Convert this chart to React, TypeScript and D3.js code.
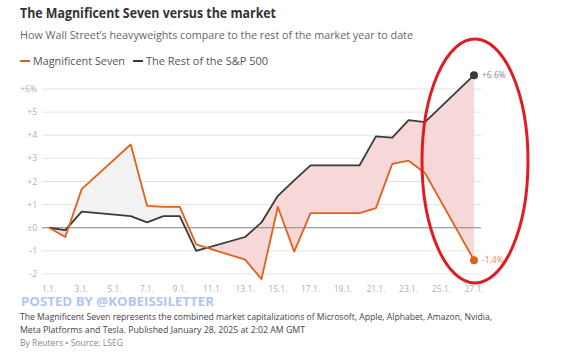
import React from "react";
import * as d3 from "d3";

// trading days in January 2025 (day of month)
const days = [1, 2, 3, 6, 7, 8, 9, 10, 13, 14, 15, 16, 17, 20, 21, 22, 23, 24, 27];
const magSeven = [0, -0.4, 1.67, 3.6, 0.95, 0.9, 0.9, -0.72, -1.38, -2.22, 0.9, -1.03, 0.63, 0.63, 0.85, 2.76, 2.9, 2.37, -1.4];
const restOfSP = [0, -0.1, 0.7, 0.5, 0.23, 0.5, 0.5, -1.0, -0.4, 0.23, 1.38, 2.05, 2.7, 2.7, 3.95, 3.9, 4.65, 4.57, 6.6];

const yTicks = [-2, -1, 0, 1, 2, 3, 4, 5, 6];
const yTickLabels = ["-2", "-1", "±0", "+1", "+2", "+3", "+4", "+5", "+6%"];
const xTicks = [1, 3, 5, 7, 9, 11, 13, 15, 17, 19, 21, 23, 25, 27];

const W = 562;
const H = 352;
const FONT = "'Open Sans', 'Noto Sans', sans-serif";
const ORANGE = "#e0611d";
const DARK = "#3a3a3a";

export default function App() {
  const x = d3.scaleLinear().domain([1, 27]).range([49, 474]);
  const y = d3.scaleLinear().domain([-2, 6]).range([274, 89]);
  const gridX0 = 42;
  const gridX1 = 481;

  const rows = days.map((d, i) => ({ d, m: magSeven[i], r: restOfSP[i] }));

  const lineM = d3.line<any>().x(p => x(p.d)).y(p => y(p.m));
  const lineR = d3.line<any>().x(p => x(p.d)).y(p => y(p.r));
  const band = d3.area<any>().x(p => x(p.d)).y0(p => y(p.m)).y1(p => y(p.r));
  const aboveR = d3.area<any>().x(p => x(p.d)).y0(0).y1(p => y(p.r));
  const belowR = d3.area<any>().x(p => x(p.d)).y0(H).y1(p => y(p.r));

  const last = rows[rows.length - 1];
  const fit = "spacingAndGlyphs";

  return (
    <svg width={W} height={H} style={{ position: "absolute", left: 0, top: 0, background: "#fff" }} fontFamily={FONT}>
      <defs>
        <clipPath id="clipAbove"><path d={aboveR(rows) || ""} /></clipPath>
        <clipPath id="clipBelow"><path d={belowR(rows) || ""} /></clipPath>
      </defs>

      {/* header */}
      <text x={20} y={18} fontSize={13.5} fontWeight={700} fill="#333" textLength={256} lengthAdjust={fit}>The Magnificent Seven versus the market</text>
      <text x={20} y={39} fontSize={11} fill="#666" textLength={393} lengthAdjust={fit}>How Wall Street’s heavyweights compare to the rest of the market year to date</text>
      <line x1={20} x2={30} y1={61} y2={61} stroke={ORANGE} strokeWidth={2} />
      <text x={33} y={65} fontSize={11} fill="#555" textLength={92} lengthAdjust={fit}>Magnificent Seven</text>
      <line x1={133} x2={143} y1={61} y2={61} stroke={DARK} strokeWidth={2} />
      <text x={146} y={65} fontSize={11} fill="#555" textLength={122} lengthAdjust={fit}>The Rest of the S&amp;P 500</text>

      {/* grid */}
      {yTicks.map((t, i) => (
        <g key={t}>
          <line x1={gridX0} x2={gridX1} y1={y(t)} y2={y(t)} stroke="#e3e3e3" strokeWidth={1} />
          <text x={37} y={y(t) + 3} textAnchor="end" fontSize={8.5} fill="#b0b0b0">{yTickLabels[i]}</text>
        </g>
      ))}

      {/* shaded gap */}
      <path d={band(rows) || ""} fill="#f2f2f2" clipPath="url(#clipAbove)" />
      <path d={band(rows) || ""} fill="#f7d8d8" clipPath="url(#clipBelow)" />
      <line x1={gridX0} x2={gridX1} y1={y(0)} y2={y(0)} stroke="#8a8a8a" strokeWidth={1} />

      {xTicks.map(t => (
        <text key={t} x={x(t)} y={292} textAnchor="middle" fontSize={8.5} fill="#b0b0b0">{t}.1.</text>
      ))}

      <path d={lineR(rows) || ""} fill="none" stroke={DARK} strokeWidth={1.8} strokeLinejoin="round" />
      <path d={lineM(rows) || ""} fill="none" stroke={ORANGE} strokeWidth={1.8} strokeLinejoin="round" />
      <circle cx={x(last.d)} cy={y(last.r)} r={4} fill={DARK} />
      <circle cx={x(last.d)} cy={y(last.m)} r={4} fill={ORANGE} />
      <text x={x(last.d) + 8} y={y(last.r) + 3} fontSize={8.5} fill="#888">+6.6%</text>
      <text x={x(last.d) + 8} y={y(last.m) + 3} fontSize={8.5} fill="#e98a55">-1.4%</text>

      {/* annotation */}
      <ellipse cx={475} cy={161} rx={53} ry={122} fill="none" stroke="#e01b22" strokeWidth={3} />

      {/* footer */}
      <text x={21} y={306} fontSize={12} fontWeight={700} fill="#b3c5f3" textLength={193} lengthAdjust={fit}>POSTED BY @KOBEISSILETTER</text>
      <text x={20} y={320} fontSize={8.8} fill="#444" textLength={472} lengthAdjust={fit}>The Magnificent Seven represents the combined market capitalizations of Microsoft, Apple, Alphabet, Amazon, Nvidia,</text>
      <text x={20} y={333} fontSize={8.8} fill="#444" textLength={285} lengthAdjust={fit}>Meta Platforms and Tesla. Published January 28, 2025 at 2:02 AM GMT</text>
      <text x={20} y={346} fontSize={8.6} fill="#888" textLength={103} lengthAdjust={fit}>By Reuters • Source: LSEG</text>
    </svg>
  );
}
